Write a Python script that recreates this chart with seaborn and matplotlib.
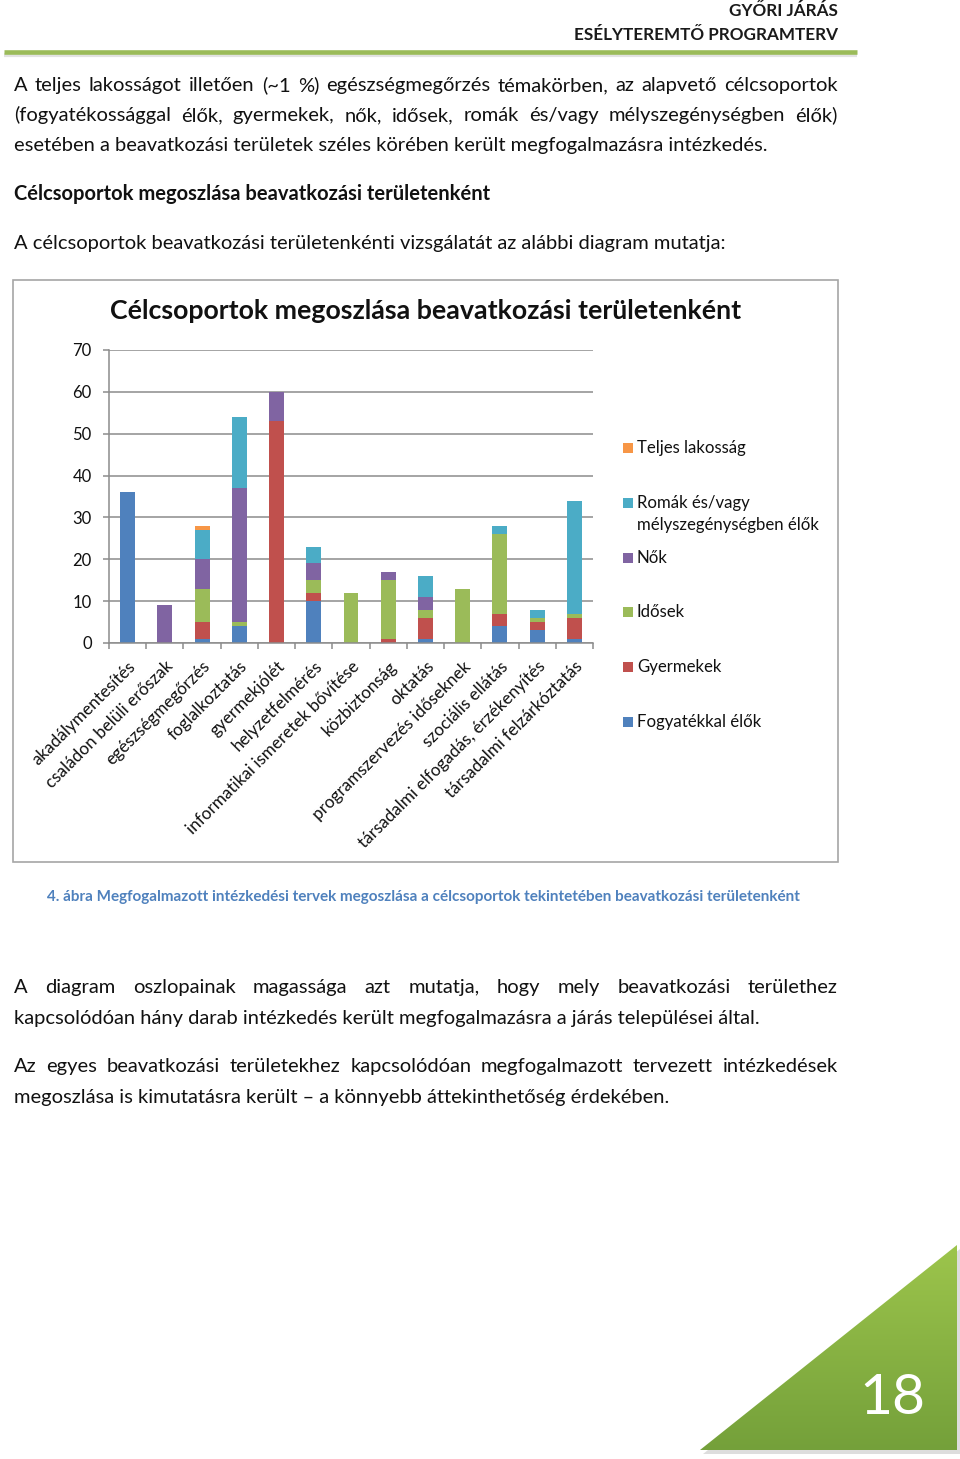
import numpy as np
import pandas as pd
import matplotlib.pyplot as plt
import seaborn as sns
from matplotlib.patches import Rectangle, Polygon
from matplotlib.colors import LinearSegmentedColormap

# beavatkozasi teruletek (x kategoriak)
categories = ["akadálymentesítés", "családon belüli erőszak", "egészségmegőrzés",
              "foglalkoztatás", "gyermekjólét", "helyzetfelmérés",
              "informatikai ismeretek bővítése", "közbiztonság", "oktatás",
              "programszervezés időseknek", "szociális ellátás",
              "társadalmi elfogadás, érzékenyítés", "társadalmi felzárkóztatás"]

# celcsoportok, alulrol felfele
fogyatekkal = [36, 0, 1, 4, 0, 10, 0, 0, 1, 0, 4, 3, 1]
gyermekek = [0, 0, 4, 0, 53, 2, 0, 1, 5, 0, 3, 2, 5]
idosek = [0, 0, 8, 1, 0, 3, 12, 14, 2, 13, 19, 1, 1]
nok = [0, 9, 7, 32, 7, 4, 0, 2, 3, 0, 0, 0, 0]
romak = [0, 0, 7, 17, 0, 4, 0, 0, 5, 0, 2, 2, 27]
teljes = [0, 0, 1, 0, 0, 0, 0, 0, 0, 0, 0, 0, 0]

series_names = ["Fogyatékkal élők", "Gyermekek", "Idősek", "Nők",
                "Romák és/vagy\nmélyszegénységben élők", "Teljes lakosság"]
colors = ["#4F81BD", "#C0504D", "#9BBB59", "#8064A2", "#4BACC6", "#F79646"]
yticks = [0, 10, 20, 30, 40, 50, 60, 70]

sns.set_style("white")
plt.rcParams['font.family'] = ['Lato', 'DejaVu Sans']

W, H = 960, 1459
fig = plt.figure(figsize=(W / 100, H / 100), dpi=100)

# page background axes in pixel coords
bg = fig.add_axes([0, 0, 1, 1], zorder=0)
bg.set_xlim(0, W)
bg.set_ylim(H, 0)
bg.axis('off')
r = fig.canvas.get_renderer()


def put_line(text, y, x0, x1=None, **kw):
    # y = line middle; words sit on a common baseline; x1 given -> justified
    yb = y + 5
    if x1 is None:
        bg.text(x0, yb, text, va='baseline', ha='left', **kw)
        return
    words = text.split(' ')
    objs = [bg.text(0, yb, w, va='baseline', ha='left', **kw) for w in words]
    widths = [o.get_window_extent(r).width for o in objs]
    gap = (x1 - x0 - sum(widths)) / (len(words) - 1)
    x = x0
    for o, w in zip(objs, widths):
        o.set_x(x)
        x += w + gap


# header
bg.text(838, 11, "GYŐRI JÁRÁS", ha='right', va='center', fontsize=12.3, fontweight='bold', color='#1a1a1a')
bg.text(838, 35, "ESÉLYTEREMTŐ PROGRAMTERV", ha='right', va='center', fontsize=12.3, fontweight='bold', color='#1a1a1a')
bg.plot([4, 857], [55, 55], color='#cfcfcf', lw=3, alpha=0.6, solid_capstyle='butt')
bg.plot([4, 857], [51.5, 51.5], color='#9BBB59', lw=3.3, solid_capstyle='butt')

body = dict(fontsize=14.5, color='#111111')
put_line("A teljes lakosságot illetően (~1 %) egészségmegőrzés témakörben, az alapvető célcsoportok", 86, 14, 838, **body)
put_line("(fogyatékossággal élők, gyermekek, nők, idősek, romák és/vagy mélyszegénységben élők)", 116, 14, 838, **body)
put_line("esetében a beavatkozási területek széles körében került megfogalmazásra intézkedés.", 146, 14, **body)
put_line("Célcsoportok megoszlása beavatkozási területenként", 195, 14, fontweight='bold', **body)
put_line("A célcsoportok beavatkozási területenkénti vizsgálatát az alábbi diagram mutatja:", 244, 14, **body)

# chart frame
bg.add_patch(Rectangle((13, 280), 825, 582, fill=False, edgecolor='#A6A6A6', lw=1.2))
bg.text(425.5, 311, "Célcsoportok megoszlása beavatkozási területenként", ha='center', va='center',
        fontsize=19.3, fontweight='bold', color='#111111')

# caption + following text
put_line("4. ábra Megfogalmazott intézkedési tervek megoszlása a célcsoportok tekintetében beavatkozási területenként",
         896, 47, fontsize=11.0, fontweight='bold', color='#4F81BD')
put_line("A diagram oszlopainak magassága azt mutatja, hogy mely beavatkozási területhez", 988, 14, 838, **body)
put_line("kapcsolódóan hány darab intézkedés került megfogalmazásra a járás települései által.", 1019, 14, **body)
put_line("Az egyes beavatkozási területekhez kapcsolódóan megfogalmazott tervezett intézkedések", 1067, 14, 838, **body)
put_line("megoszlása is kimutatásra került – a könnyebb áttekinthetőség érdekében.", 1098, 14, **body)

# page number triangle with gradient
tri = Polygon([(700, 1450), (957, 1245), (957, 1450)], closed=True, facecolor='none', edgecolor='none')
bg.add_patch(Polygon([(703, 1454), (960, 1249), (960, 1454)], closed=True, facecolor='#bdbdbd', alpha=0.5, edgecolor='none'))
bg.add_patch(tri)
grad = np.linspace(0, 1, 256).reshape(-1, 1)
gcmap = LinearSegmentedColormap.from_list('g', ['#9DC54C', '#74A03A'])
im = bg.imshow(grad, cmap=gcmap, extent=(700, 957, 1450, 1245), aspect='auto', zorder=2)
im.set_clip_path(tri)
bg.text(892, 1398, "18", ha='center', va='center', fontsize=41, color='white', zorder=3)
bg.set_xlim(0, W)
bg.set_ylim(H, 0)

# stacked bar chart
ax = fig.add_axes([109 / W, 1 - 643 / H, (593 - 109) / W, (643 - 350) / H], zorder=2)
ax.patch.set_alpha(0)
values = pd.DataFrame(dict(zip(series_names, [fogyatekkal, gyermekek, idosek, nok, romak, teljes])),
                      index=categories)
cum = values.cumsum(axis=1)
for name, col in reversed(list(zip(series_names, colors))):
    sns.barplot(x=categories, y=cum[name].values, order=categories, color=col, saturation=1,
                width=0.4, linewidth=0, ax=ax)

ax.set_ylim(0, 70)
ax.set_xlim(-0.5, len(categories) - 0.5)
ax.set_yticks(yticks)
ax.yaxis.grid(True, color='#8c8c8c', lw=1.1)
ax.set_axisbelow(True)
for s in ['top', 'right']:
    ax.spines[s].set_visible(False)
for s in ['left', 'bottom']:
    ax.spines[s].set_color('#8c8c8c')
    ax.spines[s].set_linewidth(1.1)
ax.tick_params(axis='y', length=4.5, width=1.1, color='#8c8c8c', direction='out', pad=8,
               labelsize=12, labelcolor='#111111', left=True)
ax.set_xticks(range(len(categories)))
ax.set_xticks(np.arange(-0.5, len(categories)), minor=True)
ax.tick_params(axis='x', which='major', length=0, pad=11, labelsize=12.3, labelcolor='#111111')
ax.tick_params(axis='x', which='minor', length=4.5, width=1.1, color='#8c8c8c', direction='out', bottom=True)
ax.set_xticklabels(categories, rotation=45, ha='right', rotation_mode='anchor')
ax.set_xlabel("")
ax.set_ylabel("")

# legend, top entry first
leg_names = list(reversed(series_names))
leg_colors = list(reversed(colors))
for i, (name, col) in enumerate(zip(leg_names, leg_colors)):
    yc = 448 + i * 54.8
    bg.add_patch(Rectangle((623, yc - 5), 10, 10, facecolor=col, edgecolor='none'))
    for j, line in enumerate(name.split('\n')):
        bg.text(637, yc + j * 22, line, ha='left', va='center', fontsize=12.1, color='#111111')

fig.savefig("out.png", dpi=100)
